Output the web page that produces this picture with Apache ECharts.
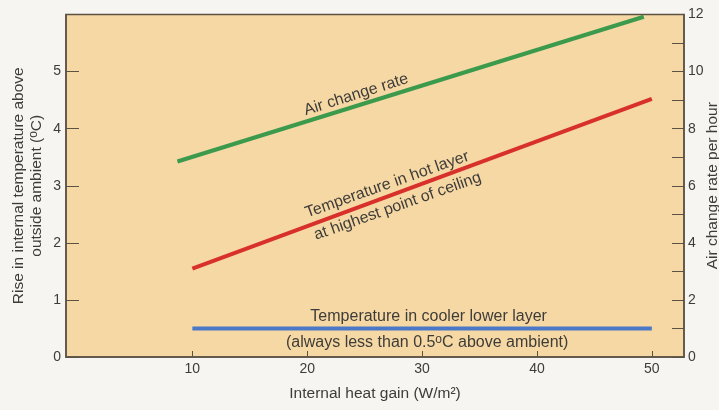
<!DOCTYPE html>
<html>
<head>
<meta charset="utf-8">
<script src="https://cdn.jsdelivr.net/npm/echarts@6/dist/echarts.min.js"></script>
<style>
html,body{margin:0;padding:0;background:#f6f5f1;}
#chart{width:719px;height:410px;}
</style>
</head>
<body>
<div id="chart"></div>
<script>
// ---- data ----
const xTickValues = [10, 20, 30, 40, 50];
const airChangeGain = [8.7, 49.3];          // W/m2
const airChangeRate = [6.85, 11.92];        // air changes per hour (right axis)
const hotLayerGain = [10, 50];
const hotLayerTemp = [1.55, 4.52];          // deg C (left axis)
const coolLayerGain = [10, 50];
const coolLayerTemp = [0.5, 0.5];           // deg C (left axis)

const pairs = (xs, ys) => xs.map((x, i) => [x, ys[i]]);

const FONT = '"Liberation Sans", Arial, Helvetica, sans-serif';
const TXT = '#3e3c38';
const AXIS = '#5c5244';
const supStyle = { fontSize: 12, lineHeight: 9, verticalAlign: 'top', fontFamily: FONT, color: TXT };
const baseRich = (fs, lh) => ({
  n: { fontSize: fs, lineHeight: lh, fontFamily: FONT, color: TXT },
  sup: supStyle
});

function annot(coord, text, rot) {
  return {
    coord: coord, value: 0,
    symbol: 'circle', symbolSize: 0,
    label: {
      show: true, position: 'inside', rotate: rot,
      formatter: text,
      rich: baseRich(16, 18)
    }
  };
}

const chart = echarts.init(document.getElementById('chart'), null, { renderer: 'canvas' });
chart.setOption({
  backgroundColor: '#f6f5f1',
  textStyle: { fontFamily: FONT },
  animation: false,
  grid: {
    left: 66, right: 35, top: 14.5, bottom: 53,
    outerBoundsMode: 'none', containLabel: false,
    show: true, backgroundColor: '#f6d8a5',
    borderColor: AXIS, borderWidth: 1.5
  },
  xAxis: {
    type: 'value', min: -1, max: 52.8,
    axisLine: { show: true, onZero: false, lineStyle: { color: AXIS, width: 1.5 } },
    axisTick: { show: true, inside: true, length: 6, customValues: xTickValues, lineStyle: { color: AXIS } },
    axisLabel: { customValues: xTickValues, fontSize: 14, color: TXT, margin: 5, fontFamily: FONT },
    splitLine: { show: false },
    name: 'Internal heat gain (W/m²)',
    nameLocation: 'middle', nameGap: 29,
    nameTextStyle: { fontSize: 15.5, color: TXT, fontFamily: FONT }
  },
  yAxis: [
    {
      type: 'value', position: 'left', min: 0, max: 6, interval: 1,
      axisLine: { show: true, onZero: false, lineStyle: { color: AXIS, width: 1.5 } },
      axisTick: { show: true, inside: true, length: 13, lineStyle: { color: AXIS } },
      axisLabel: { fontSize: 14, color: TXT, margin: 5, fontFamily: FONT,
        formatter: v => (v === 6 ? '' : String(v)) },
      splitLine: { show: false },
      name: '{n|Rise in internal temperature above}\n{n|outside ambient (}{sup|o}{n|C)}',
      nameLocation: 'middle', nameGap: 20, nameRotate: 90, nameMoveOverlap: false,
      nameTextStyle: { rich: baseRich(15.5, 18), color: TXT }
    },
    {
      type: 'value', position: 'right', min: 0, max: 12, interval: 1,
      axisLine: { show: true, onZero: false, lineStyle: { color: AXIS, width: 1.5 } },
      axisTick: { show: true, inside: true, length: 12, lineStyle: { color: AXIS } },
      axisLabel: { fontSize: 14, color: TXT, margin: 4, fontFamily: FONT,
        formatter: v => (v % 2 === 0 ? String(v) : '') },
      splitLine: { show: false },
      name: 'Air change rate per hour',
      nameLocation: 'middle', nameGap: 21, nameRotate: 90, nameMoveOverlap: false,
      nameTextStyle: { fontSize: 15.5, color: TXT, fontFamily: FONT }
    }
  ],
  series: [
    {
      name: 'Air change rate', type: 'line', yAxisIndex: 1,
      data: pairs(airChangeGain, airChangeRate),
      symbol: 'none', lineStyle: { color: '#3c9a4c', width: 4 },
      markPoint: { data: [annot([24.26, 9.19], '{n|Air change rate}', 17.5)] }
    },
    {
      name: 'Temperature in hot layer', type: 'line', yAxisIndex: 0,
      data: pairs(hotLayerGain, hotLayerTemp),
      symbol: 'none', lineStyle: { color: '#d8302a', width: 4 },
      markPoint: { data: [
        annot([26.96, 3.02], '{n|Temperature in hot layer}', 19.5),
        annot([27.87, 2.64], '{n|at highest point of ceiling}', 19.5)
      ] }
    },
    {
      name: 'Temperature in cooler lower layer', type: 'line', yAxisIndex: 0,
      data: pairs(coolLayerGain, coolLayerTemp),
      symbol: 'none', lineStyle: { color: '#4a78c6', width: 4 },
      markPoint: { data: [
        annot([30.57, 0.707], '{n|Temperature in cooler lower layer}', 0),
        annot([30.44, 0.251], '{n|(always less than 0.5}{sup|o}{n|C above ambient)}', 0)
      ] }
    }
  ]
});
</script>
</body>
</html>
